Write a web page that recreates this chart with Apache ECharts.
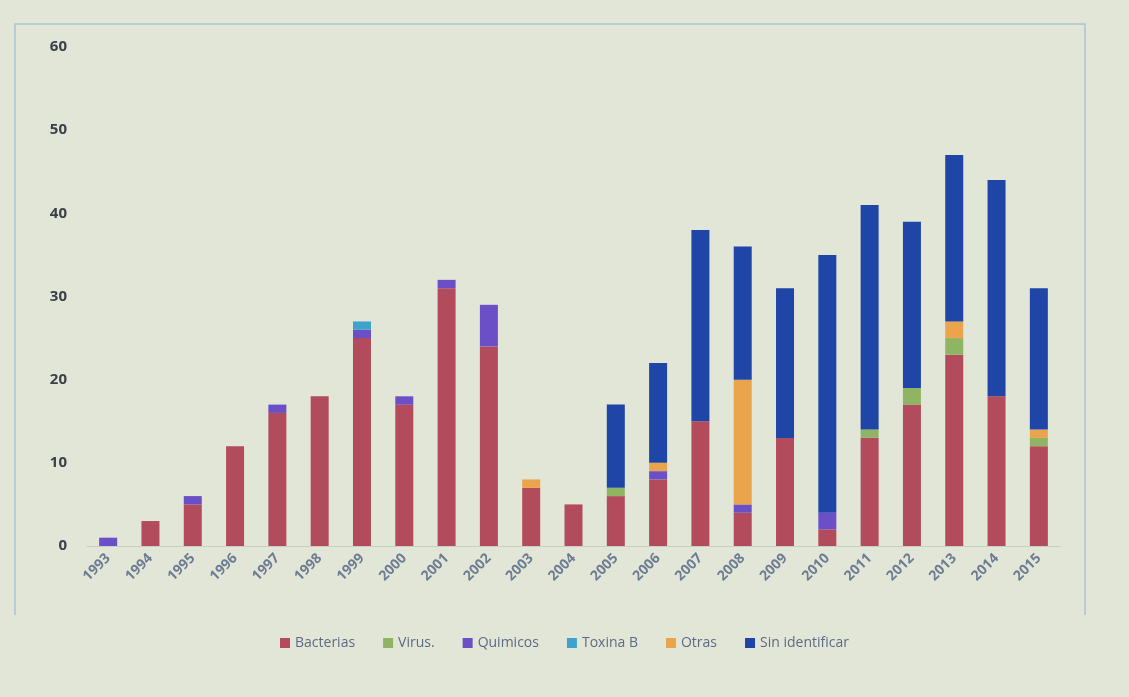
<!DOCTYPE html>
<html lang="es">
<head>
    <meta charset="utf-8"/>
    <title>Brotes por agente</title>
    <style>
        html, body { margin: 0; padding: 0; background: #e2e6d7; }
        #chartContainer { width: 1129px; height: 697px; }
    </style>
</head>
<body>

<div id="chartContainer"></div>

<script src="https://cdn.jsdelivr.net/npm/echarts@6/dist/echarts.min.js"></script>
<script>

    var years = ['1993','1994','1995','1996','1997','1998','1999','2000','2001','2002','2003','2004',
        '2005','2006','2007','2008','2009','2010','2011','2012','2013','2014','2015'];
    var bacterias      = [0,3,5,12,16,18,25,17,31,24,7,5,6,8,15,4,13,2,13,17,23,18,12];
    var virus          = [0,0,0,0,0,0,0,0,0,0,0,0,1,0,0,0,0,0,1,2,2,0,1];
    var quimicos       = [1,0,1,0,1,0,1,1,1,5,0,0,0,1,0,1,0,2,0,0,0,0,0];
    var toxinaB        = [0,0,0,0,0,0,1,0,0,0,0,0,0,0,0,0,0,0,0,0,0,0,0];
    var otras          = [0,0,0,0,0,0,0,0,0,0,1,0,0,1,0,15,0,0,0,0,2,0,1];
    var sinIdentificar = [0,0,0,0,0,0,0,0,0,0,0,0,10,12,23,16,18,31,27,20,20,26,17];
    var yTicks = [0, 10, 20, 30, 40, 50, 60];

    var seriesNames = ['Bacterias','Virus.','Quimicos','Toxina B','Otras','Sin identificar'];
    var seriesData = [bacterias, virus, quimicos, toxinaB, otras, sinIdentificar];
    var colors = ['#b24b5c','#8fb464','#6a4fc6','#3fa2cc','#e9a44c','#1f45a6'];

    function load_bar_chart(id){
        var dom = document.getElementById(id);
        var myChart = echarts.init(dom);
        var series = [];
        for (var i = 0; i < seriesNames.length; i++) {
            series.push({
                name: seriesNames[i],
                type: 'bar',
                stack: 'total',
                barWidth: 18,
                itemStyle: {color: colors[i]},
                data: seriesData[i]
            });
        }
        var option = {
            backgroundColor: '#e2e6d7',
            color: colors,
            // light frame of the plot area (top, left, right)
            graphic: [{
                type: 'polyline',
                shape: {points: [[15, 615], [15, 24], [1085, 24], [1085, 615]]},
                style: {fill: 'none', stroke: '#a9c3d6', lineWidth: 1.5},
                silent: true
            }],
            grid: {left: 87, right: 69, top: 47, bottom: 151},
            legend: {
                data: seriesNames,
                bottom: 42,
                left: 'center',
                itemWidth: 10,
                itemHeight: 10,
                itemGap: 28,
                icon: 'rect',
                textStyle: {color: '#5d6a86', fontSize: 14, fontFamily: 'Open Sans'}
            },
            xAxis: {
                type: 'category',
                data: years,
                axisLine: {show: true, lineStyle: {color: '#c8cfc4'}},
                axisTick: {show: false},
                axisLabel: {
                    rotate: 45,
                    color: '#6d7c92',
                    fontSize: 14,
                    fontWeight: 'bold',
                    margin: 10,
                    fontFamily: 'Open Sans'
                }
            },
            yAxis: {
                type: 'value',
                min: yTicks[0],
                max: yTicks[yTicks.length - 1],
                interval: 10,
                axisLine: {show: false},
                axisTick: {show: false},
                splitLine: {show: false},
                axisLabel: {
                    color: '#3b4149',
                    fontSize: 15,
                    fontWeight: 'bold',
                    margin: 20,
                    fontFamily: 'Open Sans'
                }
            },
            series: series
        };
        myChart.setOption(option, true);
    }

    load_bar_chart('chartContainer');

</script>
</body>
</html>
